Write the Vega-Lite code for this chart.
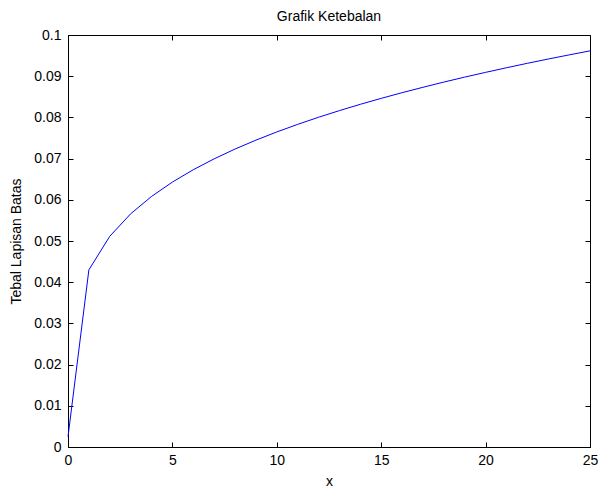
{
  "$schema": "https://vega.github.io/schema/vega-lite/v6.json",
  "width": 522,
  "height": 412,
  "autosize": {"type": "none"},
  "padding": {"left": 68, "top": 35, "right": 10, "bottom": 40},
  "background": "white",
  "title": {"text": "Grafik Ketebalan", "fontSize": 14, "fontWeight": "normal", "font": "Liberation Sans", "color": "black", "offset": 4},
  "config": {
    "view": {"stroke": "black", "strokeWidth": 1},
    "axis": {"labelFont": "Liberation Sans", "titleFont": "Liberation Sans", "labelFontSize": 14, "titleFontSize": 14, "titleFontWeight": "normal", "labelColor": "black", "titleColor": "black", "domain": false, "tickColor": "black", "grid": false, "tickSize": 5, "offset": -5}
  },
  "data": {"values": [
    {"x": 0, "y": 0.0025},
    {"x": 1, "y": 0.043},
    {"x": 2, "y": 0.05114},
    {"x": 3, "y": 0.05659},
    {"x": 4, "y": 0.06081},
    {"x": 5, "y": 0.0643},
    {"x": 6, "y": 0.0673},
    {"x": 7, "y": 0.06994},
    {"x": 8, "y": 0.07232},
    {"x": 9, "y": 0.07448},
    {"x": 10, "y": 0.07647},
    {"x": 11, "y": 0.07831},
    {"x": 12, "y": 0.08003},
    {"x": 13, "y": 0.08165},
    {"x": 14, "y": 0.08318},
    {"x": 15, "y": 0.08462},
    {"x": 16, "y": 0.086},
    {"x": 17, "y": 0.08731},
    {"x": 18, "y": 0.08857},
    {"x": 19, "y": 0.08978},
    {"x": 20, "y": 0.09093},
    {"x": 21, "y": 0.09205},
    {"x": 22, "y": 0.09313},
    {"x": 23, "y": 0.09417},
    {"x": 24, "y": 0.09517},
    {"x": 25, "y": 0.09615}
  ]},
  "layer": [
    {
      "mark": {"type": "line", "color": "#0000ff", "strokeWidth": 1},
      "encoding": {
        "x": {"field": "x", "type": "quantitative", "scale": {"domain": [0, 25], "nice": false, "zero": false}, "axis": {"values": [0, 5, 10, 15, 20, 25], "title": "x", "titlePadding": 7, "labelFlush": false, "labelPadding": 6}},
        "y": {"field": "y", "type": "quantitative", "scale": {"domain": [0, 0.1], "nice": false}, "axis": {"values": [0, 0.01, 0.02, 0.03, 0.04, 0.05, 0.06, 0.07, 0.08, 0.09, 0.1], "format": "~g", "title": "Tebal Lapisan Batas", "titlePadding": 10, "labelPadding": 7, "labelFlush": false}}
      }
    },
    {
      "mark": {"type": "line", "opacity": 0},
      "encoding": {
        "x": {"field": "x", "type": "quantitative", "scale": {"domain": [0, 25], "nice": false, "zero": false}, "axis": {"orient": "top", "values": [0, 5, 10, 15, 20, 25], "labels": false, "title": null}},
        "y": {"field": "y", "type": "quantitative", "scale": {"domain": [0, 0.1], "nice": false}, "axis": {"orient": "right", "values": [0, 0.01, 0.02, 0.03, 0.04, 0.05, 0.06, 0.07, 0.08, 0.09, 0.1], "labels": false, "title": null}}
      }
    }
  ],
  "resolve": {"axis": {"x": "independent", "y": "independent"}}
}
